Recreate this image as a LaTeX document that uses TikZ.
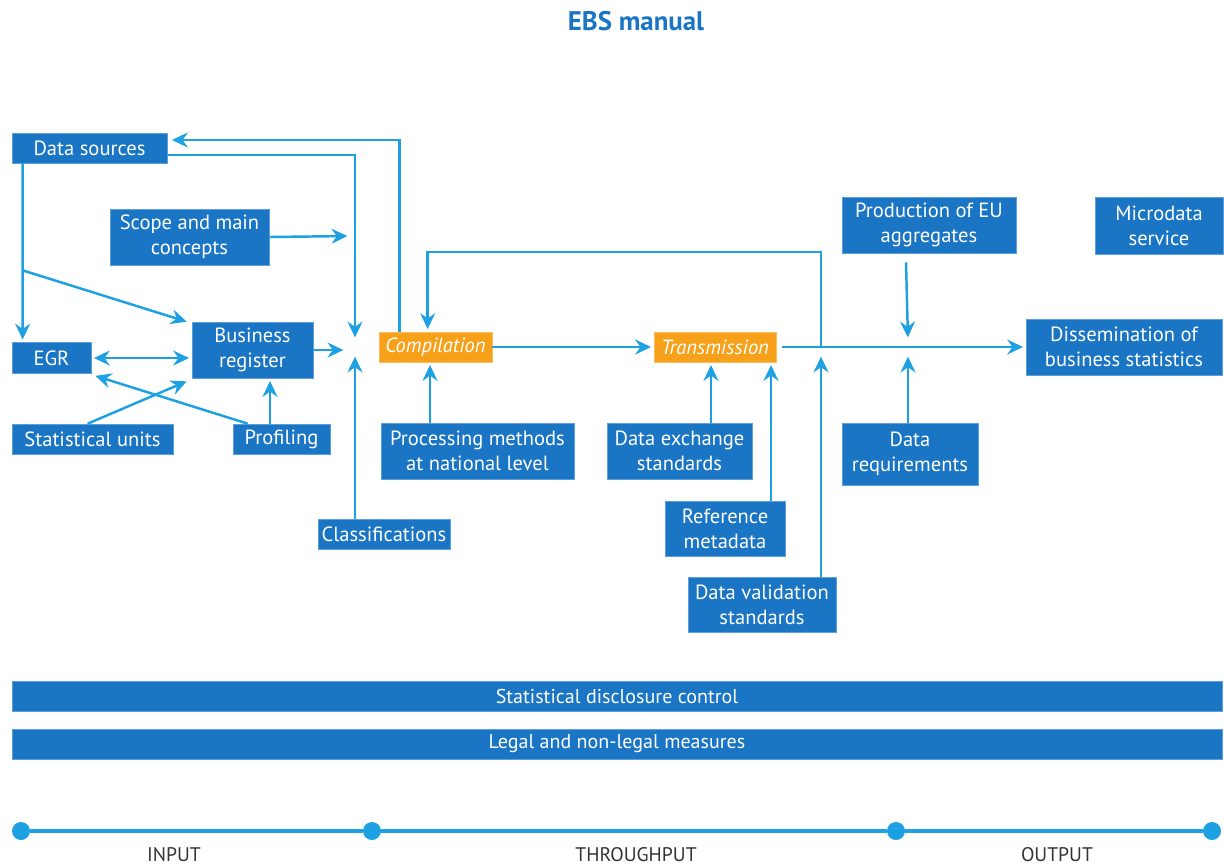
\documentclass[tikz,border=0pt]{standalone}
\usepackage{fontspec}
\setmainfont{PT Sans}
\usetikzlibrary{arrows.meta,calc}
\definecolor{boxblue}{HTML}{1A75C4}
\definecolor{boxedge}{HTML}{5C9FDB}
\definecolor{lineblue}{HTML}{1DA1E3}
\definecolor{orangebox}{HTML}{F7A11A}
\definecolor{labelgray}{HTML}{333333}
\tikzset{
  box/.style={fill=boxblue, draw=boxedge, line width=0.4pt, text=white, align=center,
    inner sep=0pt, font=\fontsize{11.7}{14.2}\selectfont},
  obox/.style={box, fill=orangebox, draw=orangebox!70!white, font=\fontsize{11.7}{14.2}\selectfont\itshape},
  bar/.style={box, font=\fontsize{11.4}{13}\selectfont, minimum width=24.2cm, minimum height=0.6cm},
  tip/.style={},
  arr/.style={draw=lineblue, line width=1.4pt, -{Stealth[length=9pt,width=8.5pt,inset=3pt]}, shorten >=1.5pt},
  arrb/.style={arr, {Stealth[length=9pt,width=8.5pt,inset=3pt]}-{Stealth[length=9pt,width=8.5pt,inset=3pt]}, shorten <=1.5pt},
  tdot/.style={circle, fill=lineblue, inner sep=0pt, minimum size=0.36cm},
  tlabel/.style={text=labelgray, font=\fontsize{11.2}{13}\selectfont},
}
\begin{document}
\begin{tikzpicture}[x=0.02cm,y=-0.02cm]
\useasboundingbox (0,0) rectangle (1224,867);
% title
\node[text=boxblue, font=\fontsize{15.3}{17}\selectfont\bfseries] (title) at (636,21) {EBS manual};
% boxes
\node[box, minimum width=3.1cm, minimum height=0.6cm] (ds) at (89.5,148) {Data sources};
\node[box, minimum width=3.18cm, minimum height=1.12cm] (scope) at (189.5,237) {Scope and main\\concepts};
\node[box, minimum width=1.58cm, minimum height=0.62cm] (egr) at (51.5,358) {EGR};
\node[box, minimum width=2.42cm, minimum height=1.12cm] (br) at (252.5,350) {Business\\register};
\node[box, minimum width=3.22cm, minimum height=0.6cm] (su) at (92.5,439) {Statistical units};
\node[box, minimum width=1.94cm, minimum height=0.6cm] (prof) at (281.5,439) {Profiling};
\node[box, minimum width=2.64cm, minimum height=0.6cm] (cls) at (384,534) {Classifications};
\node[obox, minimum width=2.26cm, minimum height=0.6cm] (comp) at (435.5,347) {Compilation};
\node[box, minimum width=3.86cm, minimum height=1.12cm] (proc) at (477.5,451) {Processing methods\\at national level};
\node[obox, minimum width=2.44cm, minimum height=0.6cm] (trans) at (715,347) {Transmission};
\node[box, minimum width=2.9cm, minimum height=1.12cm] (dex) at (679.5,451) {Data exchange\\standards};
\node[box, minimum width=2.4cm, minimum height=1.1cm] (ref) at (725,528.5) {Reference\\metadata};
\node[box, minimum width=2.96cm, minimum height=1.1cm] (dval) at (762,604.5) {Data validation\\standards};
\node[box, minimum width=3.48cm, minimum height=1.12cm] (prod) at (929,225) {Production of EU\\aggregates};
\node[box, minimum width=2.56cm, minimum height=1.14cm] (micro) at (1159,225.5) {Microdata\\service};
\node[box, minimum width=3.92cm, minimum height=1.12cm] (diss) at (1124,347) {Dissemination of\\business statistics};
\node[box, minimum width=2.72cm, minimum height=1.24cm] (dreq) at (910,454) {Data\\requirements};
\node[bar] (sdc) at (617,696) {Statistical disclosure control};
\node[bar] (legal) at (617,744) {Legal and non-legal measures};
% helper coordinates
\coordinate (hub) at (355,347);
\coordinate (j1) at (821,347);
\coordinate (j2) at (908,347);
\coordinate (lp) at (821,252);
\coordinate (pbr) at (270,0);
\coordinate (pproc) at (430,0);
\coordinate (pdex) at (711,0);
\coordinate (pref) at (771,0);
% connectors
\draw[arr] ([xshift=0.22cm]ds.south west) -- ([xshift=0.22cm]egr.north west);
\draw[arr, shorten >=0pt] ($(ds.south west)+(11,107)$) -- ($(br.north west)+(-5,0)$);
\draw[arr] ($(ds.east)+(0,7)$) -| ($(hub)+(0,-7)$);
\draw[arr] ($(comp.north west)+(21,0)$) |- ($(ds.east)+(2,-8)$);
\draw[arr] (scope.east) -- ($(hub)+(-5,-111)$);
\draw[arr] (br.east) -- ($(hub)+(-9,3)$);
\draw[arr] (cls.north -| hub) -- ($(hub)+(0,7)$);
\draw[arrb] (egr.east) -- (egr.east -| br.west);
\draw[arr, shorten >=0pt] ($(su.north west)+(76,0)$) -- ($(br.south west)+(-5,3)$);
\draw[arr, shorten >=0pt] ($(prof.north west)+(15,0)$) -- ($(egr.south east)+(4,2)$);
\draw[arr] (pbr |- prof.north) -- (pbr |- br.south);
\draw[arr] (comp.east) -- (trans.west);
\draw[arr] (pproc |- proc.north) -- (pproc |- comp.south);
\draw[arr] (j1) -- (lp) -| ($(comp.north west)+(49,0)$);
\draw[arr] (dval.north -| j1) -- ($(j1)+(0,7)$);
\draw[arr, shorten <=3pt] (trans.east) -- (diss.west);
\draw[arr] (pdex |- dex.north) -- (pdex |- trans.south);
\draw[arr] (pref |- ref.north) -- (pref |- trans.south);
\draw[arr] ($(prod.south)+(-23,9)$) -- ($(j2)+(0,-7)$);
\draw[arr] (dreq.north -| j2) -- ($(j2)+(0,7)$);
% timeline
\node[tdot] (t1) at (21,831) {};
\node[tdot] (t2) at (372,831) {};
\node[tdot] (t3) at (896,831) {};
\node[tdot] (t4) at (1212,831) {};
\draw[lineblue, line width=2.4pt] (t1) -- (t2) -- (t3) -- (t4);
\node[tlabel] (lin) at (174,855) {INPUT};
\node[tlabel] (lthr) at (636,855) {THROUGHPUT};
\node[tlabel] (lout) at (1057,855) {OUTPUT};
\end{tikzpicture}
\end{document}
